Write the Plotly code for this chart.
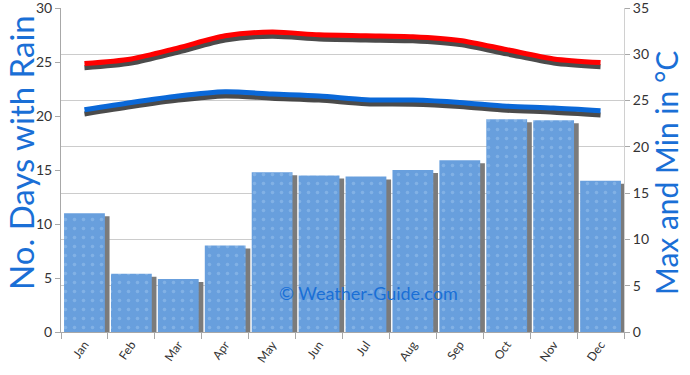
import plotly.graph_objects as go

months = ["Jan", "Feb", "Mar", "Apr", "May", "Jun", "Jul", "Aug", "Sep", "Oct", "Nov", "Dec"]
rain_days = [11.0, 5.4, 4.9, 8.0, 14.8, 14.5, 14.4, 15.0, 15.9, 19.7, 19.6, 14.0]
max_temp = [29.0, 29.5, 30.7, 32.0, 32.4, 32.1, 32.0, 31.9, 31.5, 30.5, 29.5, 29.1]
min_temp = [24.0, 24.8, 25.5, 25.95, 25.7, 25.5, 25.1, 25.05, 24.8, 24.4, 24.2, 23.9]

FONT = "Lato, DejaVu Sans, sans-serif"
TICK_FONT = dict(family=FONT, size=14, color="#333333")
TITLE_BLUE = "#1a6fd6"
AXIS_GRAY = "#a8a8a8"

fig = go.Figure()

# bar shadows (base subplot, shifted right & down)
fig.add_trace(go.Bar(x=months, y=rain_days, xaxis="x", yaxis="y",
                     marker=dict(color="#7b7b7b", line=dict(width=0)),
                     width=0.87, hoverinfo="skip", showlegend=False))
# main bars
fig.add_trace(go.Bar(x=months, y=rain_days, xaxis="x2", yaxis="y2",
                     marker=dict(color="#689fdd", line=dict(width=0),
                                 pattern=dict(shape=".", fgcolor="#9cc4ee", bgcolor="#689fdd",
                                              size=9, solidity=0.12)),
                     width=0.87, showlegend=False))
# line shadows
for vals in (max_temp, min_temp):
    fig.add_trace(go.Scatter(x=months, y=vals, xaxis="x2", yaxis="y3", mode="lines",
                             line=dict(color="rgba(55,55,55,0.9)", width=5, shape="spline", smoothing=0.8),
                             hoverinfo="skip", showlegend=False))
# main lines
fig.add_trace(go.Scatter(x=months, y=max_temp, xaxis="x2", yaxis="y4", mode="lines",
                         line=dict(color="#ff0000", width=5, shape="spline", smoothing=0.8),
                         showlegend=False))
fig.add_trace(go.Scatter(x=months, y=min_temp, xaxis="x2", yaxis="y4", mode="lines",
                         line=dict(color="#0a68d8", width=5, shape="spline", smoothing=0.8),
                         showlegend=False))

hidden = dict(showgrid=False, zeroline=False, showticklabels=False, showline=False, ticks="",
              automargin=False)

fig.update_layout(
    width=690, height=375,
    margin=dict(l=61, r=66, t=8, b=43, autoexpand=False),
    paper_bgcolor="white", plot_bgcolor="white",
    barmode="overlay",
    xaxis=dict(type="category", range=[-0.6, 11.4], **hidden),
    yaxis=dict(range=[0.28, 30.28], **hidden),
    xaxis2=dict(type="category", overlaying="x", range=[-0.5, 11.5], automargin=False,
                tickson="boundaries", ticks="outside", ticklen=6, tickcolor=AXIS_GRAY,
                showline=True, linecolor=AXIS_GRAY, showgrid=False, zeroline=False,
                tickangle=-55, tickfont=dict(family=FONT, size=12, color="#333333")),
    yaxis2=dict(overlaying="y", side="left", range=[0, 30], dtick=5, automargin=False,
                ticklabeloverflow="allow",
                ticks="outside", ticklen=5, tickcolor=AXIS_GRAY,
                showline=True, linecolor=AXIS_GRAY, showgrid=False, zeroline=False,
                tickfont=TICK_FONT),
    yaxis3=dict(overlaying="y", side="right", range=[0.45, 35.45], **hidden),
    yaxis4=dict(overlaying="y", side="right", range=[0, 35], dtick=5, automargin=False,
                ticklabeloverflow="allow",
                ticks="outside", ticklen=5, tickcolor=AXIS_GRAY,
                showline=True, linecolor="#d0d0d0", showgrid=True, gridcolor="#cccccc", gridwidth=1,
                zeroline=False, tickfont=TICK_FONT),
    annotations=[
        dict(text="No. Days with Rain", textangle=-90, xref="paper", yref="paper",
             x=(21-61)/563, y=(331-152)/324, xanchor="center", yanchor="middle",
             showarrow=False, font=dict(family=FONT, size=33, color=TITLE_BLUE)),
        dict(text="Max and Min in °C", textangle=-90, xref="paper", yref="paper",
             x=(666-61)/563, y=(331-172)/324, xanchor="center", yanchor="middle",
             showarrow=False, font=dict(family=FONT, size=30, color=TITLE_BLUE)),
        dict(text="© Weather-Guide.com", xref="paper", yref="paper",
             x=(368-61)/563, y=(331-292)/324, xanchor="center", yanchor="middle",
             showarrow=False, font=dict(family=FONT, size=18, color="#1a6fd6")),
    ],
)

fig.write_html("out.html", config={"displayModeBar": False},
               post_script="document.body.style.margin='0';")
